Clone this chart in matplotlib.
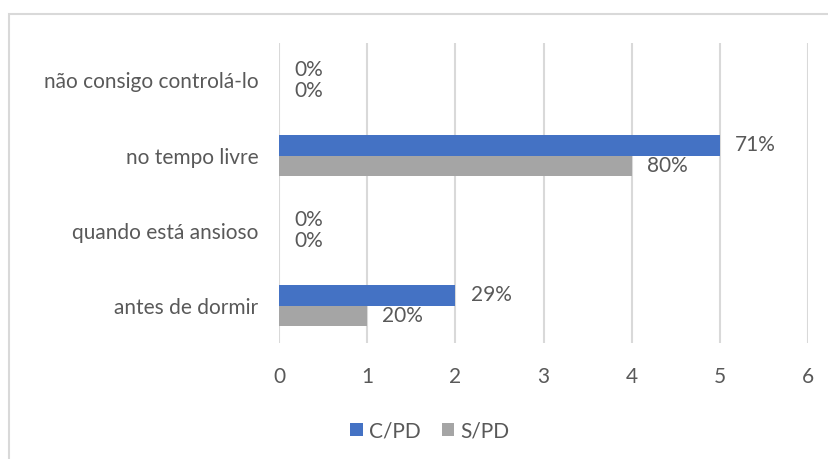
import numpy as np
import matplotlib.pyplot as plt
from matplotlib.patches import Rectangle

categories = ['antes de dormir', 'quando está ansioso', 'no tempo livre', 'não consigo controlá-lo']
c_pd = [2, 0, 5, 0]
s_pd = [1, 0, 4, 0]
c_pd_labels = ['29%', '0%', '71%', '0%']
s_pd_labels = ['20%', '0%', '80%', '0%']
series_names = ['C/PD', 'S/PD']

blue = '#4472C4'
gray = '#A5A5A5'
txt = '#595959'
fs = 15

plt.rcParams['font.family'] = ['Lato', 'DejaVu Sans']

fig = plt.figure(figsize=(8.29, 4.59), dpi=100)
ax = fig.add_axes([279/829, 1-343/459, (808-279)/829, 300/459])

# outer chart border (cut off at right/bottom like the screenshot)
fig.patches.append(Rectangle((9/829, -0.1), 1.2, 1-14/459+0.1, transform=fig.transFigure,
                             fill=False, edgecolor='#D9D9D9', linewidth=1.5))

y = np.arange(len(categories))
h = 0.267
b1 = ax.barh(y + h/2, c_pd, height=h, color=blue, label=series_names[0], zorder=3)
b2 = ax.barh(y - h/2, s_pd, height=h, color=gray, label=series_names[1], zorder=3)

ax.bar_label(b1, labels=c_pd_labels, padding=11, color=txt, fontsize=fs)
ax.bar_label(b2, labels=s_pd_labels, padding=11, color=txt, fontsize=fs)

ax.set_xlim(0, 6)
ax.set_ylim(-0.5, 3.5)
ax.set_xticks(range(7))
ax.set_yticks(y)
ax.set_yticklabels(categories)
ax.tick_params(axis='both', length=0, colors=txt, labelsize=fs)
ax.tick_params(axis='x', pad=17)
ax.tick_params(axis='y', pad=15)
ax.grid(axis='x', color='#D9D9D9', linewidth=1.5, zorder=0)
for s in ax.spines.values():
    s.set_visible(False)

ax.legend(loc='center', bbox_to_anchor=(430/829, 1-431/459), bbox_transform=fig.transFigure,
          ncol=2, frameon=False, fontsize=fs, labelcolor=txt,
          handlelength=0.6, handleheight=0.6, handletextpad=0.3, columnspacing=1.0)

plt.savefig('out.png', dpi=100)
